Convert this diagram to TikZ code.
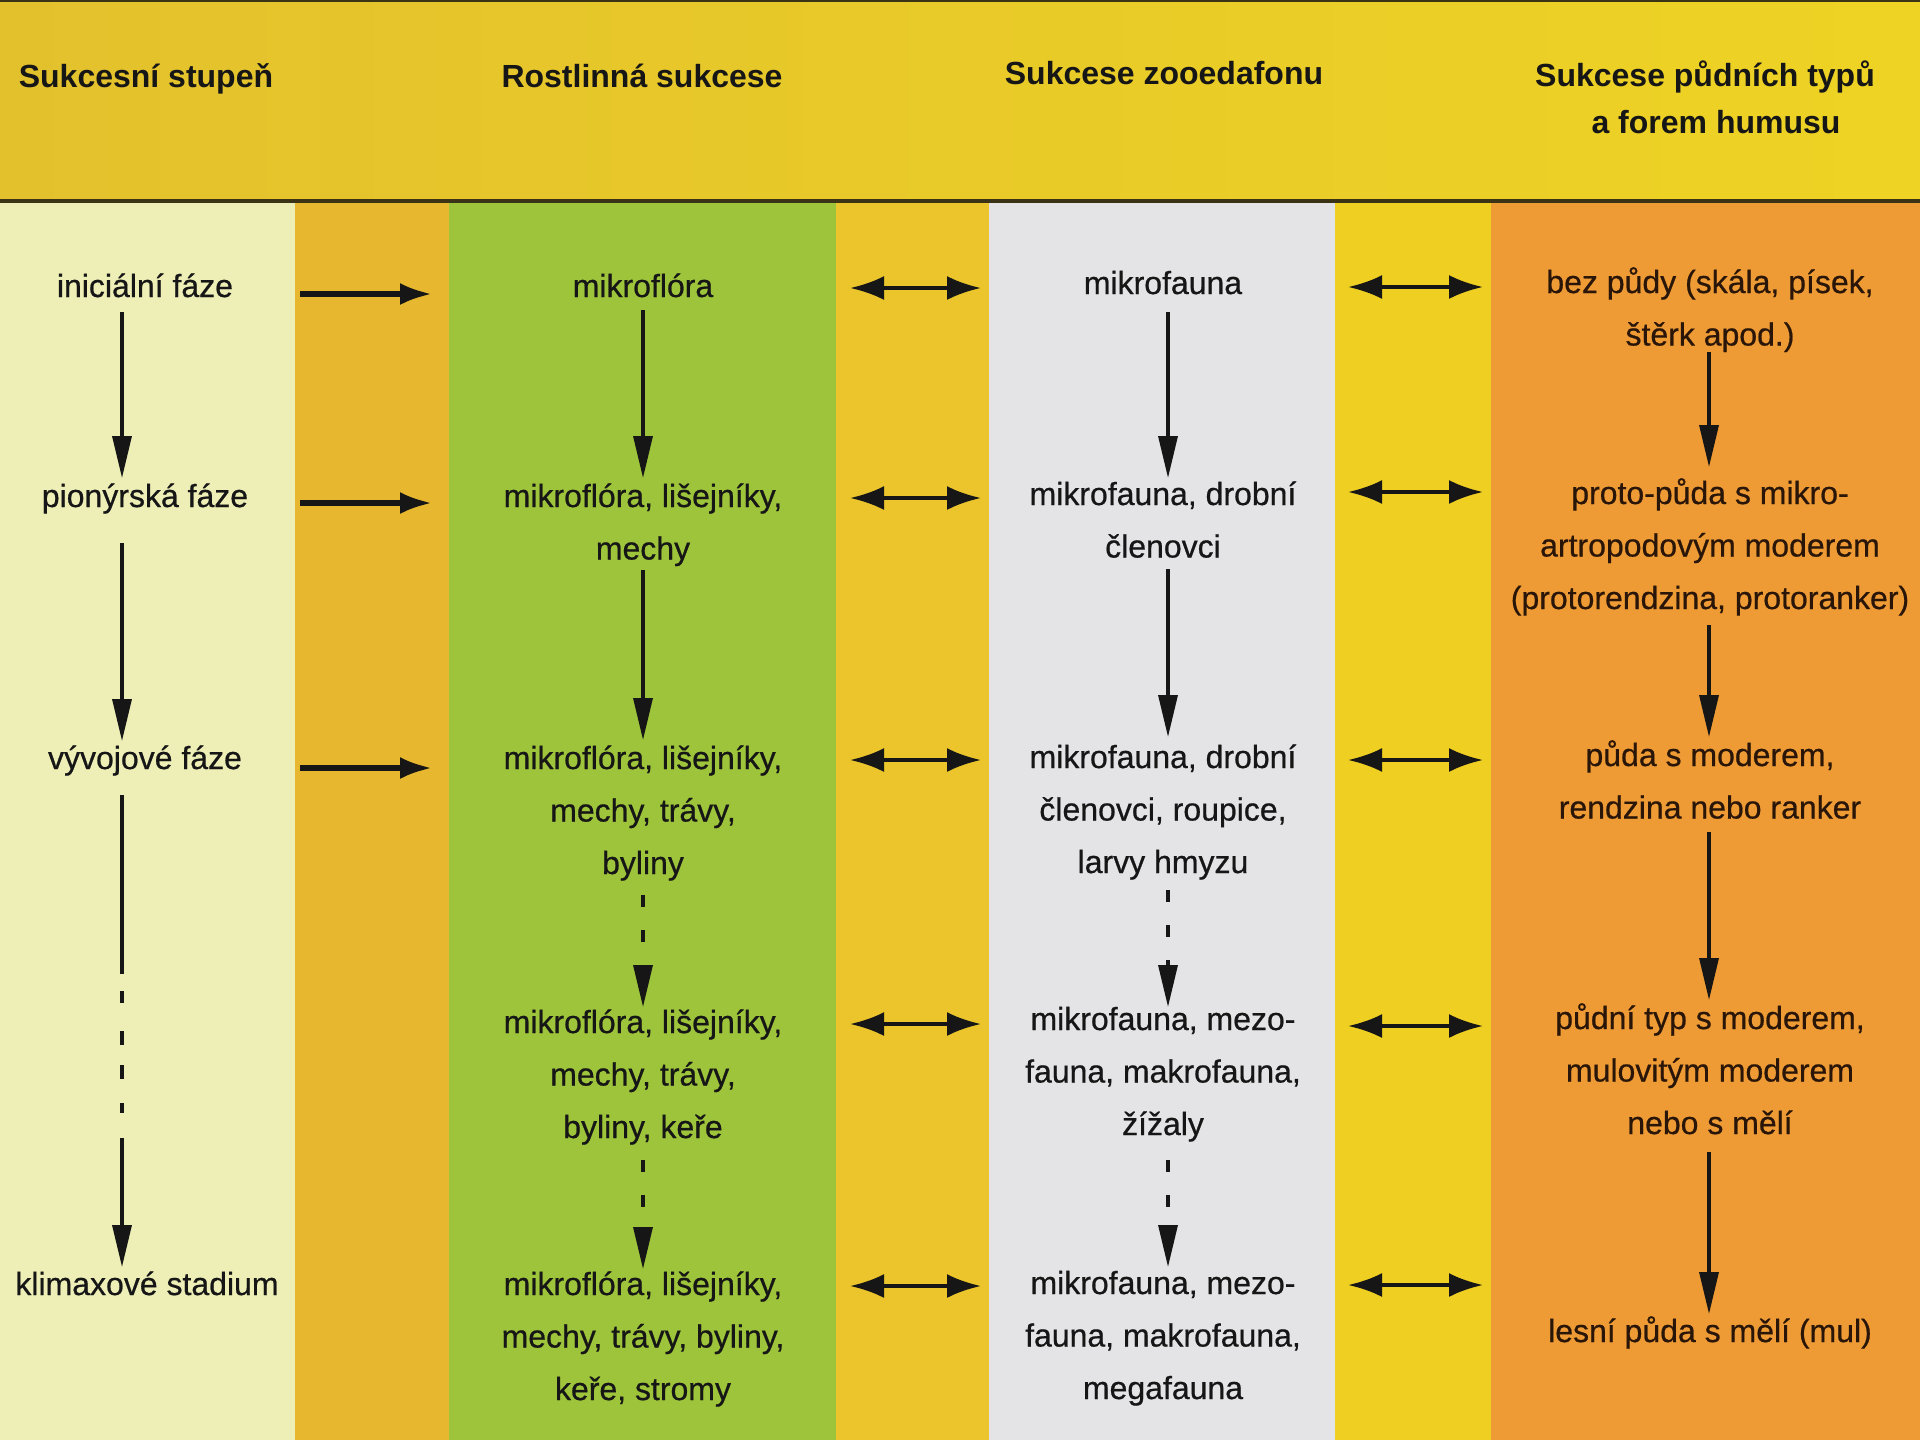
\documentclass[tikz,border=0pt]{standalone}
\usepackage{fontspec}
\setmainfont{Liberation Sans}
\newfontfamily\bodyf{Liberation Sans}[FakeBold=0.6]
\usetikzlibrary{arrows.meta,calc}
\definecolor{hdrL}{HTML}{E3C12D}
\definecolor{hdrR}{HTML}{EED324}
\definecolor{colA}{HTML}{EDEFB6}
\definecolor{bandA}{HTML}{E7B82F}
\definecolor{colB}{HTML}{9DC43B}
\definecolor{bandB}{HTML}{EBC52B}
\definecolor{colC}{HTML}{E4E4E6}
\definecolor{bandC}{HTML}{EFCF22}
\definecolor{colD}{HTML}{EE9B35}
\definecolor{rulec}{HTML}{3B3315}
\definecolor{ink}{HTML}{161616}
\definecolor{inkD}{HTML}{2A1608}
\newcommand{\hst}{\rule[-5pt]{0pt}{18pt}}
\tikzset{
  txt/.style={font=\bodyf\fontsize{16}{26.25}\selectfont, align=center, inner sep=0pt, outer sep=0pt, anchor=north, text=ink},
  txtD/.style={txt, text=inkD},
  hdr/.style={txt, font=\fontsize{16}{26.25}\selectfont\bfseries},
  varrow/.style={draw=ink, line width=1.7pt, -{Triangle[length=21pt,width=9.5pt]}},
  vdash/.style={varrow, dash pattern=on 6pt off 11.5pt},
  sarrow/.style={draw=ink, line width=2.6pt, -{Latex[length=16pt,width=11pt]}},
  darrow/.style={draw=ink, line width=2pt, {Latex[length=17pt,width=12pt]}-{Latex[length=17pt,width=12pt]}}
}
\begin{document}
\begin{tikzpicture}[x=0.5pt,y=-0.5pt]
\useasboundingbox (0,0) rectangle (1920,1440);
% backgrounds
\fill[colA] (0,200) rectangle (295,1440);
\fill[bandA] (295,200) rectangle (449,1440);
\fill[colB] (449,200) rectangle (836,1440);
\fill[bandB] (836,200) rectangle (989,1440);
\fill[colC] (989,200) rectangle (1335,1440);
\fill[bandC] (1335,200) rectangle (1491,1440);
\fill[colD] (1491,200) rectangle (1920,1440);
\shade[left color=hdrL, right color=hdrR] (0,0) rectangle (1920,200);
\draw[rulec, line width=2pt] (0,201) -- (1920,201);
\draw[rulec, line width=1pt] (0,1) -- (1920,1);

% header
\node[hdr] (h1) at (146,61) {\hst Sukcesní stupeň};
\node[hdr] (h2) at (642,61) {\hst Rostlinná sukcese};
\node[hdr] (h3) at (1164,58) {\hst Sukcese zooedafonu};
\node[hdr] (h4) at (1705,60) {\hst Sukcese půdních typů\\[-2.75pt]\hst\hspace*{11pt}a forem humusu};

% column 1
\node[txt] (c1r1) at (145,271) {\hst iniciální fáze};
\node[txt] (c1r2) at (145,481) {\hst pionýrská fáze};
\node[txt] (c1r3) at (145,743) {\hst vývojové fáze};
\node[txt] (c1r5) at (147,1269) {\hst klimaxové stadium};

% column 2
\node[txt] (c2r1) at (643,271) {\hst mikroflóra};
\node[txt] (c2r2) at (643,481) {\hst mikroflóra, lišejníky,\\\hst mechy};
\node[txt] (c2r3) at (643,743) {\hst mikroflóra, lišejníky,\\\hst mechy, trávy,\\\hst byliny};
\node[txt] (c2r4) at (643,1007) {\hst mikroflóra, lišejníky,\\\hst mechy, trávy,\\\hst byliny, keře};
\node[txt] (c2r5) at (643,1269) {\hst mikroflóra, lišejníky,\\\hst mechy, trávy, byliny,\\\hst keře, stromy};

% column 3
\node[txt] (c3r1) at (1163,268) {\hst mikrofauna};
\node[txt] (c3r2) at (1163,479) {\hst mikrofauna, drobní\\\hst členovci};
\node[txt] (c3r3) at (1163,742) {\hst mikrofauna, drobní\\\hst členovci, roupice,\\\hst larvy hmyzu};
\node[txt] (c3r4) at (1163,1004) {\hst mikrofauna, mezo-\\\hst fauna, makrofauna,\\\hst žížaly};
\node[txt] (c3r5) at (1163,1268) {\hst mikrofauna, mezo-\\\hst fauna, makrofauna,\\\hst megafauna};

% column 4
\node[txtD] (c4r1) at (1710,267) {\hst bez půdy (skála, písek,\\\hst štěrk apod.)};
\node[txtD] (c4r2) at (1710,478) {\hst proto-půda s mikro-\\\hst artropodovým moderem\\\hst (protorendzina, protoranker)};
\node[txtD] (c4r3) at (1710,740) {\hst půda s moderem,\\\hst rendzina nebo ranker};
\node[txtD] (c4r4) at (1710,1003) {\hst půdní typ s moderem,\\\hst mulovitým moderem\\\hst nebo s mělí};
\node[txtD] (c4r5) at (1710,1316) {\hst lesní půda s mělí (mul)};

% band coordinates for horizontal arrows
\coordinate (ha1) at (300,0);
\coordinate (hb1) at (432,0);
\coordinate (ha2) at (850,0);
\coordinate (hb2) at (981,0);
\coordinate (ha3) at (1348,0);
\coordinate (hb3) at (1483,0);

% col1 -> col2
\draw[sarrow] ($(ha1 |- c1r1.north)+(0,23)$) -- ($(hb1 |- c2r1.north)+(0,23)$);
\draw[sarrow] ($(ha1 |- c1r2.north)+(0,22)$) -- ($(hb1 |- c2r2.north)+(0,22)$);
\draw[sarrow] ($(ha1 |- c1r3.north)+(0,25)$) -- ($(hb1 |- c2r3.north)+(0,25)$);

% col2 <-> col3
\draw[darrow] ($(ha2 |- c2r1.north)+(0,17)$) -- ($(hb2 |- c3r1.north)+(0,20)$);
\draw[darrow] ($(ha2 |- c2r2.north)+(0,17)$) -- ($(hb2 |- c3r2.north)+(0,19)$);
\draw[darrow] ($(ha2 |- c2r3.north)+(0,17)$) -- ($(hb2 |- c3r3.north)+(0,18)$);
\draw[darrow] ($(ha2 |- c2r4.north)+(0,17)$) -- ($(hb2 |- c3r4.north)+(0,20)$);
\draw[darrow] ($(ha2 |- c2r5.north)+(0,17)$) -- ($(hb2 |- c3r5.north)+(0,18)$);

% col3 <-> col4
\draw[darrow] ($(ha3 |- c3r1.north)+(0,19)$) -- ($(hb3 |- c4r1.north)+(0,20)$);
\draw[darrow] ($(ha3 |- c3r2.north)+(0,13)$) -- ($(hb3 |- c4r2.north)+(0,14)$);
\draw[darrow] ($(ha3 |- c3r3.north)+(0,18)$) -- ($(hb3 |- c4r3.north)+(0,20)$);
\draw[darrow] ($(ha3 |- c3r4.north)+(0,22)$) -- ($(hb3 |- c4r4.north)+(0,23)$);
\draw[darrow] ($(ha3 |- c3r5.north)+(0,17)$) -- ($(hb3 |- c4r5.north)+(0,-31)$);

% vertical arrows column 1
\draw[varrow, shorten <=2.5pt, shorten >=1.5pt] ([xshift=-11.5pt]c1r1.south) -- ([xshift=-11.5pt]c1r2.north);
\draw[varrow, shorten <=13pt, shorten >=1pt] ([xshift=-11.5pt]c1r2.south) -- ([xshift=-11.5pt]c1r3.north);
\draw[varrow, shorten <=8pt, shorten >=1pt,
  dash pattern=on 89.5pt off 8.5pt on 6pt off 14pt on 7pt off 10pt on 7pt off 12pt on 5pt off 12.5pt on 300pt]
  ([xshift=-11.5pt]c1r3.south) -- ([xshift=-12.5pt]c1r5.north);

% vertical arrows column 2
\draw[varrow, shorten <=1.5pt, shorten >=1.5pt] (c2r1.south) -- (c2r2.north);
\draw[varrow, shorten <=0pt, shorten >=1.5pt] (c2r2.south) -- (c2r3.north);
\draw[vdash, shorten <=5.5pt, shorten >=0pt] (c2r3.south) -- (c2r4.north);
\draw[vdash, shorten <=6pt, shorten >=0pt] (c2r4.south) -- (c2r5.north);

% vertical arrows column 3
\draw[varrow, shorten <=4pt, shorten >=0.5pt] ([xshift=2.5pt]c3r1.south) -- ([xshift=2.5pt]c3r2.north);
\draw[varrow, shorten <=0.75pt, shorten >=2.5pt] ([xshift=2.5pt]c3r2.south) -- ([xshift=2.5pt]c3r3.north);
\draw[vdash, shorten <=3.5pt, shorten >=-1.5pt] ([xshift=2.5pt]c3r3.south) -- ([xshift=2.5pt]c3r4.north);
\draw[vdash, shorten <=7.5pt, shorten >=0.5pt] ([xshift=2.5pt]c3r4.south) -- ([xshift=2.5pt]c3r5.north);

% vertical arrows column 4
\draw[varrow, shorten <=-1.75pt, shorten >=5.5pt] ([xshift=-0.5pt]c4r1.south) -- ([xshift=-0.5pt]c4r2.north);
\draw[varrow, shorten <=3pt, shorten >=1.5pt] ([xshift=-0.5pt]c4r2.south) -- ([xshift=-0.5pt]c4r3.north);
\draw[varrow, shorten <=1.75pt, shorten >=1.5pt] ([xshift=-0.5pt]c4r3.south) -- ([xshift=-0.5pt]c4r4.north);
\draw[varrow, shorten <=4pt, shorten >=1pt] ([xshift=-0.5pt]c4r4.south) -- ([xshift=-0.5pt]c4r5.north);
\end{tikzpicture}
\end{document}
